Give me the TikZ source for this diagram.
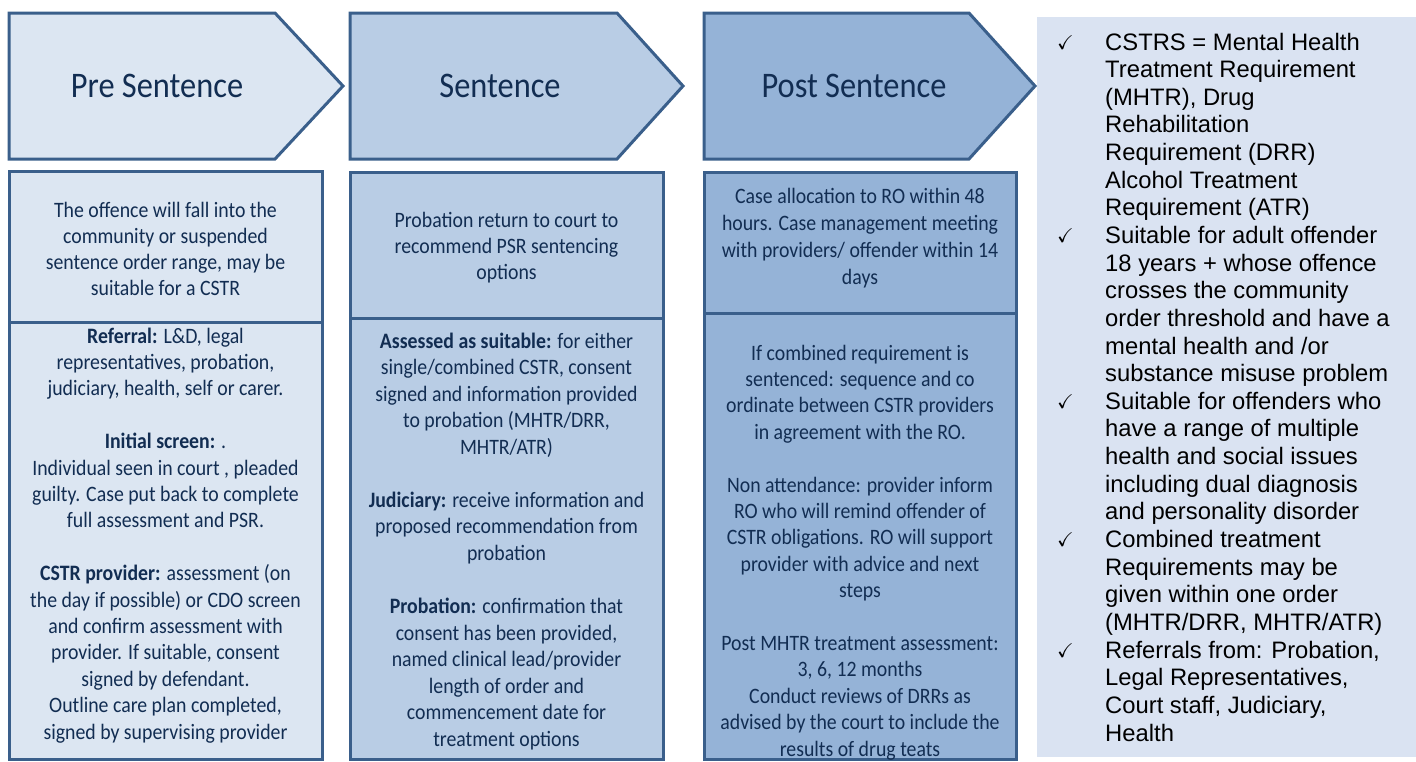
\documentclass[tikz,border=0pt]{standalone}
\usepackage{fontspec}
\usepackage{amssymb}
\newfontfamily\calfont[FakeStretch=0.9]{Carlito}
\newfontfamily\arialfont{Liberation Sans}
\definecolor{fillA}{HTML}{DCE6F2}
\definecolor{fillB}{HTML}{B9CDE5}
\definecolor{fillC}{HTML}{95B3D7}
\definecolor{sidefill}{HTML}{DAE3F2}
\definecolor{bordc}{HTML}{3A5F8B}
\definecolor{navy}{HTML}{122D52}
\newcommand\cenlines[1]{\vtop{\halign{\hfil##\hfil\cr#1\crcr}}}
\newcommand\leftlines[1]{\vtop{\halign{##\hfil\cr#1\crcr}}}
\begin{document}
\begin{tikzpicture}[x=1pt,y=-1pt,
  bord/.style={draw=bordc, line width=3pt},
  body/.style={inner sep=0pt, text=navy, anchor=base, font=\calfont\fontsize{22}{#1}\selectfont},
  ttl/.style={inner sep=0pt, text=navy, anchor=base, font=\calfont\fontsize{36}{40}\selectfont},
  side/.style={inner sep=0pt, text=black, anchor=base west, font=\arialfont\fontsize{23.8}{27.64}\selectfont},
  tick/.style={inner sep=0pt, anchor=base west, font=\fontsize{20}{24}\selectfont}]
\useasboundingbox (0,0) rectangle (1416,761);

% side panel
\fill[sidefill] (1037,17) rectangle (1416,757);

% stage arrows
\draw[bord, fill=fillA] (9,13) -- (275,13) -- (343,86) -- (275,159) -- (9,159) -- cycle;
\draw[bord, fill=fillB] (350,13) -- (617,13) -- (683,86) -- (617,159) -- (350,159) -- cycle;
\draw[bord, fill=fillC] (704,13) -- (969,13) -- (1035,86) -- (969,159) -- (704,159) -- cycle;

% column boxes
\draw[bord, fill=fillA] (9,171) rectangle (322,322);
\draw[bord, fill=fillA] (9,322) rectangle (322,759);
\draw[bord, fill=fillB] (350,172) rectangle (663,318);
\draw[bord, fill=fillB] (350,318) rectangle (663,759);
\draw[bord, fill=fillC] (704,172) rectangle (1016,313);
\draw[bord, fill=fillC] (704,313) rectangle (1016,759);

% titles
\node[ttl] (t1) at (157,97) {Pre Sentence};
\node[ttl] (t2) at (500,97) {Sentence};
\node[ttl] (t3) at (854,97) {Post Sentence};

% column 1
\node[body=26.2] (a1) at (165.5,217) {\cenlines{The offence will fall into the\cr community or suspended\cr sentence order range, may be\cr suitable for a CSTR}};
\node[body=26.4] (a2) at (165.5,343) {\cenlines{\textbf{Referral:} L\&D, legal\cr representatives, probation,\cr judiciary, health, self or carer.}};
\node[body=26.4] (a3) at (165.5,448.6) {\cenlines{\textbf{Initial screen:} .\cr Individual seen in court , pleaded\cr guilty. Case put back to complete\cr full assessment and PSR.}};
\node[body=26.4] (a4) at (165.5,580.6) {\cenlines{\textbf{CSTR provider:} assessment (on\cr the day if possible) or CDO screen\cr and confirm assessment with\cr provider. If suitable, consent\cr signed by defendant.\cr Outline care plan completed,\cr signed by supervising provider}};

% column 2
\node[body=26] (b1) at (506.5,227) {\cenlines{Probation return to court to\cr recommend PSR sentencing\cr options}};
\node[body=26.55] (b2) at (506.5,348) {\cenlines{\textbf{Assessed as suitable:} for either\cr single/combined CSTR, consent\cr signed and information provided\cr to probation (MHTR/DRR,\cr MHTR/ATR)}};
\node[body=26.55] (b3) at (506.5,507.3) {\cenlines{\textbf{Judiciary:} receive information and\cr proposed recommendation from\cr probation}};
\node[body=26.55] (b4) at (506.5,613.5) {\cenlines{\textbf{Probation:} confirmation that\cr consent has been provided,\cr named clinical lead/provider\cr length of order and\cr commencement date for\cr treatment options}};

% column 3
\node[body=27] (c1) at (860,203) {\cenlines{Case allocation to RO within 48\cr hours. Case management meeting\cr with providers/ offender within 14\cr days}};
\node[body=26.4] (c2) at (860,360) {\cenlines{If combined requirement is\cr sentenced: sequence and co\cr ordinate between CSTR providers\cr in agreement with the RO.}};
\node[body=26.4] (c3) at (860,492) {\cenlines{Non attendance: provider inform\cr RO who will remind offender of\cr CSTR obligations. RO will support\cr provider with advice and next\cr steps}};
\node[body=26.4] (c4) at (860,650.4) {\cenlines{Post MHTR treatment assessment:\cr 3, 6, 12 months\cr Conduct reviews of DRRs as\cr advised by the court to include the\cr results of drug teats}};

% side panel list
\node[tick] (k1) at (1057,49) {$\checkmark$};
\node[tick] (k2) at (1057,242.5) {$\checkmark$};
\node[tick] (k3) at (1057,408.3) {$\checkmark$};
\node[tick] (k4) at (1057,546.5) {$\checkmark$};
\node[tick] (k5) at (1057,657.1) {$\checkmark$};
\node[side] (s1) at (1105,50) {\leftlines{CSTRS = Mental Health\cr Treatment Requirement\cr (MHTR), Drug\cr Rehabilitation\cr Requirement (DRR)\cr Alcohol Treatment\cr Requirement (ATR)}};
\node[side] (s2) at (1105,243.5) {\leftlines{Suitable for adult offender\cr 18 years + whose offence\cr crosses the community\cr order threshold and have a\cr mental health and /or\cr substance misuse problem}};
\node[side] (s3) at (1105,409.3) {\leftlines{Suitable for offenders who\cr have a range of multiple\cr health and social issues\cr including dual diagnosis\cr and personality disorder}};
\node[side] (s4) at (1105,547.5) {\leftlines{Combined treatment\cr Requirements may be\cr given within one order\cr (MHTR/DRR, MHTR/ATR)}};
\node[side] (s5) at (1105,658.1) {\leftlines{Referrals from: Probation,\cr Legal Representatives,\cr Court staff, Judiciary,\cr Health}};
\end{tikzpicture}
\end{document}
